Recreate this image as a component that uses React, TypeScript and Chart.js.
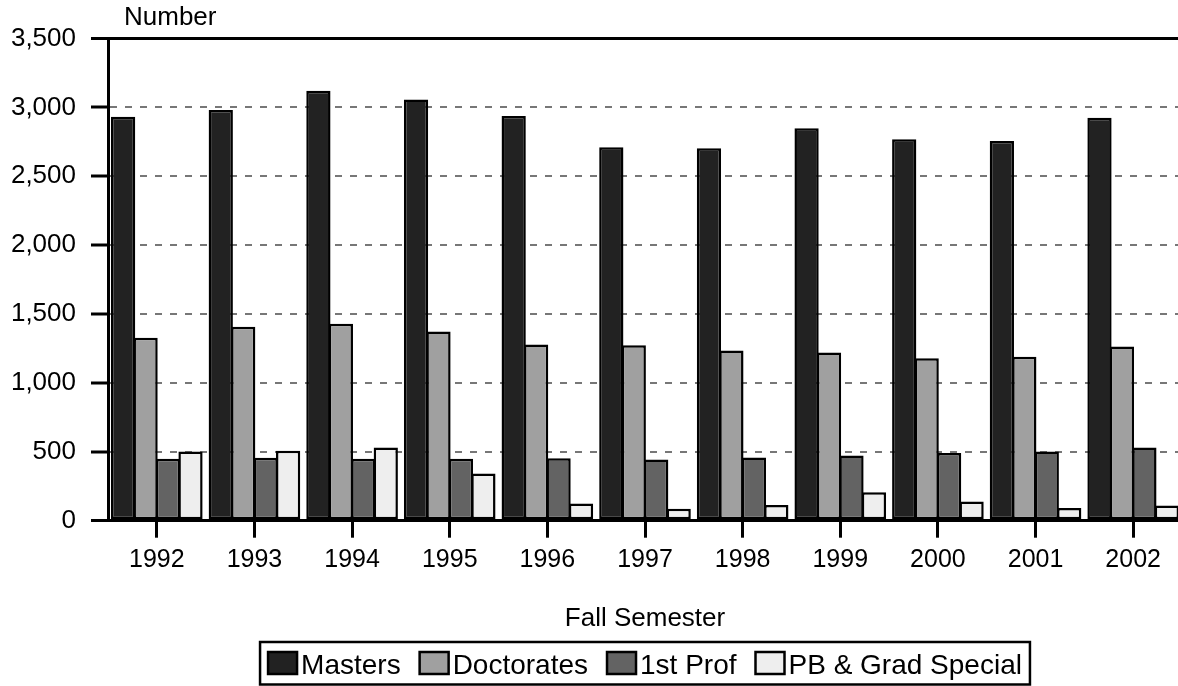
import React, { useEffect, useRef } from "react";
import { Chart, registerables } from "chart.js";

Chart.register(...registerables);

const years = ["1992", "1993", "1994", "1995", "1996", "1997", "1998", "1999", "2000", "2001", "2002"];
const masters = [2932, 2981, 3121, 3058, 2937, 2710, 2703, 2848, 2768, 2756, 2925];
const doctorates = [1328, 1408, 1430, 1373, 1279, 1274, 1235, 1220, 1180, 1190, 1265];
const firstProf = [449, 457, 450, 449, 454, 444, 459, 474, 492, 503, 532];
const pbGradSpecial = [503, 508, 532, 342, 124, 87, 114, 206, 140, 92, 111];

const seriesNames = ["Masters", "Doctorates", "1st Prof", "PB & Grad Special"];
const seriesColors = ["#222222", "#a0a0a0", "#636363", "#eeeeee"];

const yTitle = "Number";
const xTitle = "Fall Semester";
const FONT = "'Liberation Sans', Arial, Helvetica, sans-serif";

const annotations = {
  id: "annotations",
  afterDraw(chart: any) {
    const { ctx, chartArea } = chart;
    ctx.save();
    ctx.fillStyle = "#000";
    ctx.textBaseline = "alphabetic";
    ctx.font = `26px ${FONT}`;
    ctx.textAlign = "left";
    ctx.fillText(yTitle, 124, 25);
    const cx = (chartArea.left + chartArea.right) / 2;
    ctx.textAlign = "center";
    ctx.fillText(xTitle, cx, 626);

    // legend
    ctx.font = `28px ${FONT}`;
    const sw = 29, sh = 22, gap = 4, itemGap = 19, pad = 8;
    const widths = seriesNames.map((n) => sw + gap + ctx.measureText(n).width);
    const total = widths.reduce((a, b) => a + b, 0) + itemGap * (seriesNames.length - 1);
    let x = cx - total / 2;
    const top = 642, bottom = 684.5;
    ctx.lineWidth = 2.5;
    ctx.strokeStyle = "#000";
    ctx.strokeRect(x - pad, top, total + pad * 2, bottom - top);
    ctx.textAlign = "left";
    seriesNames.forEach((n, i) => {
      ctx.fillStyle = seriesColors[i];
      ctx.fillRect(x, 652, sw, sh);
      ctx.lineWidth = 2.5;
      ctx.strokeRect(x, 652, sw, sh);
      ctx.fillStyle = "#000";
      ctx.fillText(n, x + sw + gap, 674);
      x += widths[i] + itemGap;
    });
    ctx.restore();
  },
};

export default function App() {
  const ref = useRef<HTMLCanvasElement | null>(null);
  useEffect(() => {
    document.body.style.margin = "0";
    document.body.style.overflow = "hidden";
    const canvas = ref.current!;
    const values = [masters, doctorates, firstProf, pbGradSpecial];
    const chart = new Chart(canvas, {
      type: "bar",
      data: {
        labels: years,
        datasets: seriesNames.map((name, i) => ({
          label: name,
          data: values[i],
          backgroundColor: seriesColors[i],
          borderColor: "#000",
          borderWidth: 2.5,
          borderSkipped: false,
          categoryPercentage: 0.92,
          barPercentage: 1.08,
        })),
      },
      options: {
        responsive: false,
        animation: false,
        layout: { padding: { top: 38.5, left: 0, right: 0, bottom: 0 } },
        plugins: { legend: { display: false }, tooltip: { enabled: false }, title: { display: false } },
        scales: {
          x: {
            afterFit(scale: any) {
              scale.height = 165.3;
            },
            grid: {
              display: true,
              drawOnChartArea: false,
              drawTicks: true,
              tickLength: 17,
              tickWidth: 3,
              tickColor: "#000",
              tickBorderDash: [],
              offset: false,
            },
            border: { display: true, color: "#000", width: 3 },
            ticks: { color: "#000", font: { family: FONT, size: 25 }, padding: 7, maxRotation: 0 },
          },
          y: {
            min: 0,
            max: 3500,
            afterFit(scale: any) {
              scale.width = 108;
            },
            ticks: {
              stepSize: 500,
              color: "#000",
              font: { family: FONT, size: 26 },
              padding: 15,
              callback: (v: any) => Number(v).toLocaleString("en-US"),
            },
            grid: {
              color: (c: any) => (c.tick && (c.tick.value === 0 || c.tick.value === 3500) ? "#000" : "#777"),
              lineWidth: (c: any) => (c.tick && (c.tick.value === 0 || c.tick.value === 3500) ? 3 : 2),
              drawTicks: true,
              tickLength: 17,
              tickWidth: 3,
              tickColor: "#000",
              tickBorderDash: [],
            },
            border: {
              display: true,
              color: "#000",
              width: 3,
              dash: (c: any) => (c.tick && (c.tick.value === 0 || c.tick.value === 3500) ? [] : [7, 8]),
            },
          },
        },
      },
      plugins: [annotations],
    });
    return () => chart.destroy();
  }, []);
  return <canvas ref={ref} width={1182} height={686} style={{ display: "block" }} />;
}
